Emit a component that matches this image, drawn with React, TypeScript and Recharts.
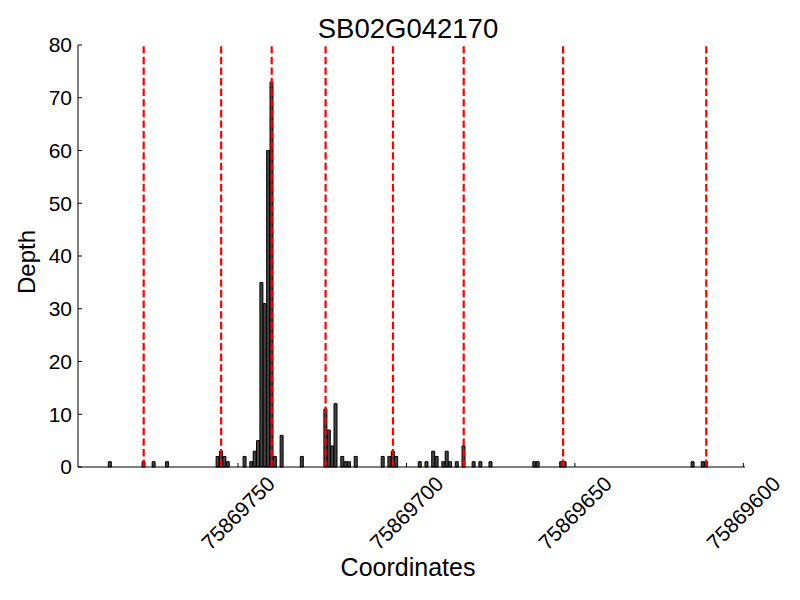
import { BarChart, Bar, XAxis, YAxis, ReferenceLine } from 'recharts'

// read positions (bp) and read depth at each one
const POSITIONS = [
    75869788, 75869778, 75869775, 75869771,
    75869756, 75869755, 75869754, 75869753,
    75869748, 75869746, 75869745, 75869744, 75869743, 75869742, 75869741, 75869740, 75869739, 75869737,
    75869731,
    75869724, 75869723, 75869722, 75869721, 75869719, 75869718, 75869717, 75869715,
    75869707, 75869705, 75869704, 75869703,
    75869696, 75869694, 75869692, 75869691, 75869689, 75869688, 75869687, 75869685, 75869683,
    75869680, 75869678, 75869675,
    75869662, 75869661, 75869654, 75869653,
    75869615, 75869612, 75869611,
]
const DEPTHS = [
    1, 1, 1, 1,
    2, 3, 2, 1,
    2, 1, 3, 5, 35, 31, 60, 73, 2, 6,
    2,
    11, 7, 4, 12, 2, 1, 1, 2,
    2, 2, 3, 2,
    1, 1, 3, 2, 1, 3, 1, 1, 4,
    1, 1, 1,
    1, 1, 1, 1,
    1, 1, 1,
]
// exon / intron boundaries drawn as red dashed lines
const BOUNDARIES = [75869778, 75869755, 75869740, 75869724, 75869704, 75869683, 75869653.5, 75869611]
const X_TICKS = [75869750, 75869700, 75869650, 75869600]
const Y_TICKS = [0, 10, 20, 30, 40, 50, 60, 70, 80]
const X_DOMAIN = [75869599.5, 75869797.5]

const data = POSITIONS.map((pos, i) => ({ pos, depth: DEPTHS[i] }))

const FONT = '"Liberation Sans", Arial, sans-serif'

function XTick(props: any) {
    const { x, y, payload } = props
    const cy = y + 46
    return (
        <text x={x} y={cy} textAnchor="middle" dominantBaseline="central"
            transform={`rotate(-45 ${x} ${cy})`} fontSize={21} fontFamily={FONT} fill="#000">
            {payload.value}
        </text>
    )
}

export default function App() {
    return (
        <div style={{ position: 'relative', width: 792, height: 592 }}>
            <BarChart
                width={792}
                height={592}
                data={data}
                margin={{ top: 37, right: 55, bottom: 33, left: 0 }}
                barCategoryGap={0}
                barGap={0}
            >
                <XAxis
                    dataKey="pos"
                    type="number"
                    domain={X_DOMAIN}
                    reversed
                    ticks={X_TICKS}
                    interval={0}
                    height={100}
                    allowDataOverflow
                    axisLine={{ stroke: '#000' }}
                    tickLine={{ stroke: '#000' }}
                    tickSize={-4}
                    tickMargin={4}
                    tick={<XTick />}
                />
                <YAxis
                    type="number"
                    domain={[0, 80]}
                    ticks={Y_TICKS}
                    interval={0}
                    width={70}
                    axisLine={{ stroke: '#000' }}
                    tickLine={{ stroke: '#000' }}
                    tickSize={-4}
                    tickMargin={10}
                    tick={{ fontSize: 21, fill: '#000', fontFamily: FONT }}
                />
                <Bar dataKey="depth" fill="#444444" stroke="#000" strokeWidth={1} isAnimationActive={false} />
                {BOUNDARIES.map(b => (
                    <ReferenceLine key={b} x={b} stroke="#ff0000" strokeWidth={2.2} strokeDasharray="7.4 3.2" />
                ))}
            </BarChart>
            <svg width={792} height={592} style={{ position: 'absolute', left: 0, top: 0, pointerEvents: 'none' }}>
                <text x={400} y={30} textAnchor="middle" fontSize={27.5} fontFamily={FONT} fill="#000">SB02G042170</text>
                <text x={400} y={568} textAnchor="middle" fontSize={25} fontFamily={FONT} fill="#000">Coordinates</text>
                <text x={27} y={254} textAnchor="middle" fontSize={24} fontFamily={FONT} fill="#000"
                    transform="rotate(-90 27 254)">Depth</text>
            </svg>
        </div>
    )
}
